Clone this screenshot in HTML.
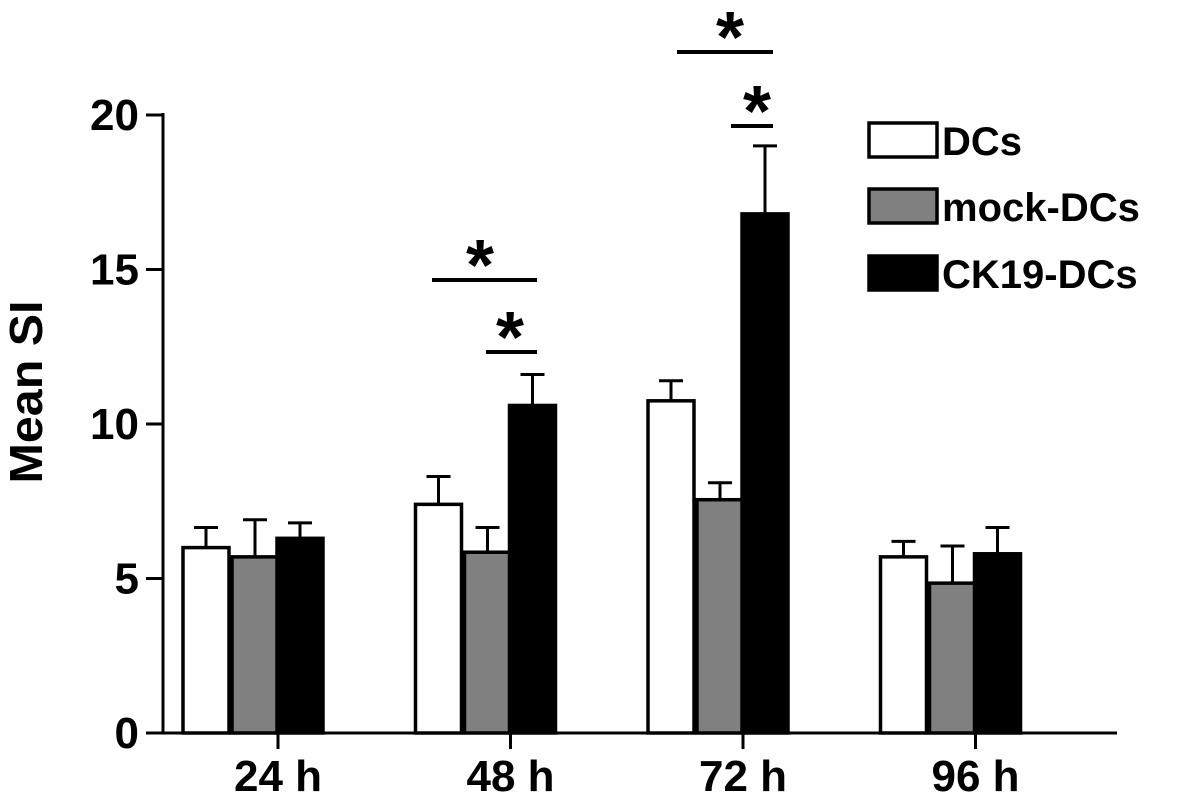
<!DOCTYPE html>
<html><head><meta charset="utf-8"><style>
body{margin:0;background:#fff;}
svg text{font-family:"Liberation Sans",Arial,sans-serif;font-weight:bold;}
</style></head><body>
<svg width="1181" height="798" viewBox="0 0 1181 798">
<g id="plot"></g>
</svg>
<script>
const groups=["24 h","48 h","72 h","96 h"];
const seriesNames=["DCs","mock-DCs","CK19-DCs"];
const dcs=[6.0,7.4,10.75,5.7];
const mock=[5.7,5.85,7.55,4.85];
const ck19=[6.3,10.6,16.8,5.8];
const dcsErr=[0.65,0.9,0.65,0.5];
const mockErr=[1.2,0.8,0.55,1.2];
const ck19Err=[0.5,1.0,2.2,0.85];
const yTicks=[0,5,10,15,20];
const fills=["#ffffff","#808080","#000000"];
const NS="http://www.w3.org/2000/svg";
const g=document.getElementById('plot');
const y0=733,pxu=30.9,axX=163;
function y(v){return y0-v*pxu;}
function gx(i){return 278+i*232.5;}
function mk(t,a,p){const e=document.createElementNS(NS,t);for(const k in a)e.setAttribute(k,a[k]);(p||g).appendChild(e);return e;}
let e=mk('line',{x1:axX,y1:y(20)-2,x2:axX,y2:y0+1.5,stroke:'#000','stroke-width':3});

e=mk('line',{x1:146,y1:y0,x2:1117,y2:y0,stroke:'#000','stroke-width':3});

yTicks.forEach(v=>{
 let t=mk('line',{x1:146,y1:y(v),x2:axX,y2:y(v),stroke:'#000','stroke-width':3});
 
 let l=mk('text',{x:139,y:y(v)+15,'text-anchor':'end','font-size':44});l.textContent=v;
 
});
let yt=mk('text',{x:0,y:0,'font-size':46,'text-anchor':'middle',textLength:183,lengthAdjust:'spacingAndGlyphs',transform:'translate(42,392) rotate(-90)'});
yt.textContent='Mean SI';
const series=[dcs,mock,ck19],errs=[dcsErr,mockErr,ck19Err];
const bw=46,offs=[-95,-46,-1];
groups.forEach((name,i)=>{
 const cx=gx(i);
 let t=mk('line',{x1:cx,y1:y0,x2:cx,y2:y0+16,stroke:'#000','stroke-width':3});
 
 let l=mk('text',{x:cx,y:791,'text-anchor':'middle','font-size':44});l.textContent=name;
 
 series.forEach((s,k)=>{
  const x=cx+offs[k], top=y(s[i]), et=y(s[i]+errs[k][i]), mid=x+bw/2;
  let el=mk('line',{x1:mid,y1:top,x2:mid,y2:et,stroke:'#000','stroke-width':3});
  
  el=mk('line',{x1:mid-12,y1:et,x2:mid+12,y2:et,stroke:'#000','stroke-width':3});
  
  let b=mk('rect',{x:x,y:top,width:bw,height:y0-top,fill:fills[k],stroke:'#000','stroke-width':3.5});
  
  
 });
});
function sig(x1,x2,yy,sx,sy){
 let l=mk('line',{x1:x1,y1:yy,x2:x2,y2:yy,stroke:'#000','stroke-width':4});
 
 let s=mk('text',{x:sx,y:sy,'text-anchor':'middle','font-size':72});s.textContent='*';
 
}
sig(432,537,280,480,290);sig(486,537,352,510,362);
sig(677,773,52,730,62);sig(731,773,126,757,136);
const ly=[123,189,256];
seriesNames.forEach((n,k)=>{
 let r=mk('rect',{x:869,y:ly[k],width:68,height:34,fill:fills[k],stroke:'#000','stroke-width':3.5});
 
 let t=mk('text',{x:942,y:ly[k]+32,'font-size':40});t.textContent=n;
 
});
</script>
</body></html>
